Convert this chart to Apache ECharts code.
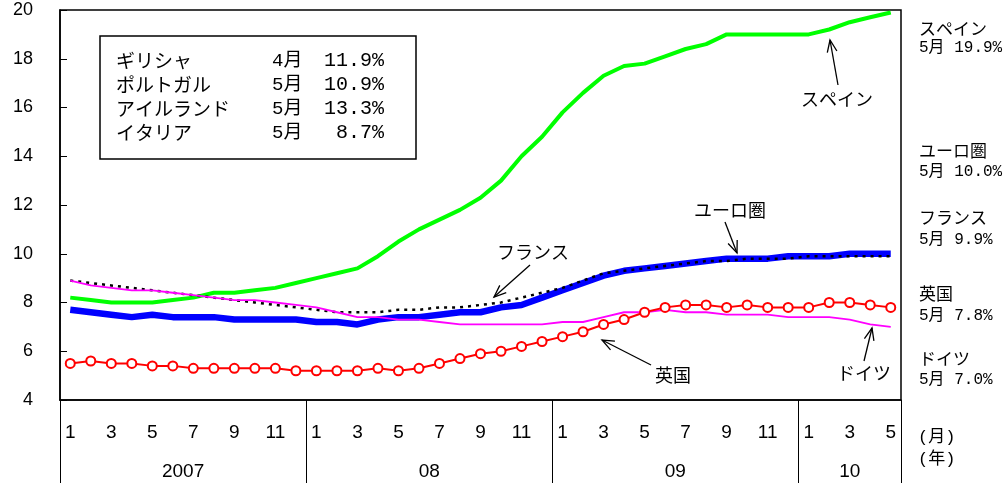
<!DOCTYPE html>
<html>
<head>
<meta charset="utf-8">
<script src="https://cdn.jsdelivr.net/npm/echarts@6/dist/echarts.min.js"></script>
<style>
  html, body { margin: 0; padding: 0; background: #fff; }
  #chart { width: 1007px; height: 483px; }
</style>
</head>
<body>
<div id="chart"></div>
<script>
// Monthly unemployment rates (%), Jan 2007 - May 2010
const months = [
  1,2,3,4,5,6,7,8,9,10,11,12,
  1,2,3,4,5,6,7,8,9,10,11,12,
  1,2,3,4,5,6,7,8,9,10,11,12,
  1,2,3,4,5
];
const years = ['2007', '08', '09', '10'];
const yearStarts = [0, 12, 24, 36, 41];

const spain = [
  8.2, 8.1, 8.0, 8.0, 8.0, 8.1, 8.2, 8.4, 8.4, 8.5, 8.6, 8.8,
  9.0, 9.2, 9.4, 9.9, 10.5, 11.0, 11.4, 11.8, 12.3, 13.0, 14.0, 14.8,
  15.8, 16.6, 17.3, 17.7, 17.8, 18.1, 18.4, 18.6, 19.0, 19.0, 19.0, 19.0,
  19.0, 19.2, 19.5, 19.7, 19.9
];
const euroArea = [
  7.7, 7.6, 7.5, 7.4, 7.5, 7.4, 7.4, 7.4, 7.3, 7.3, 7.3, 7.3,
  7.2, 7.2, 7.1, 7.3, 7.4, 7.4, 7.5, 7.6, 7.6, 7.8, 7.9, 8.2,
  8.5, 8.8, 9.1, 9.3, 9.4, 9.5, 9.6, 9.7, 9.8, 9.8, 9.8, 9.9,
  9.9, 9.9, 10.0, 10.0, 10.0
];
const france = [
  8.9, 8.8, 8.7, 8.6, 8.5, 8.4, 8.3, 8.2, 8.1, 8.0, 7.9, 7.8,
  7.7, 7.6, 7.6, 7.6, 7.7, 7.7, 7.8, 7.8, 7.9, 8.0, 8.2, 8.4,
  8.6, 8.9, 9.2, 9.3, 9.4, 9.5, 9.6, 9.7, 9.7, 9.8, 9.8, 9.8,
  9.9, 9.9, 9.9, 9.9, 9.9
];
const germany = [
  8.9, 8.7, 8.6, 8.5, 8.5, 8.4, 8.3, 8.2, 8.1, 8.1, 8.0, 7.9,
  7.8, 7.6, 7.4, 7.4, 7.3, 7.3, 7.2, 7.1, 7.1, 7.1, 7.1, 7.1,
  7.2, 7.2, 7.4, 7.6, 7.6, 7.7, 7.6, 7.6, 7.5, 7.5, 7.5, 7.4,
  7.4, 7.4, 7.3, 7.1, 7.0
];
const uk = [
  5.5, 5.6, 5.5, 5.5, 5.4, 5.4, 5.3, 5.3, 5.3, 5.3, 5.3, 5.2,
  5.2, 5.2, 5.2, 5.3, 5.2, 5.3, 5.5, 5.7, 5.9, 6.0, 6.2, 6.4,
  6.6, 6.8, 7.1, 7.3, 7.6, 7.8, 7.9, 7.9, 7.8, 7.9, 7.8, 7.8,
  7.8, 8.0, 8.0, 7.9, 7.8
];

// Latest readings for other member states (boxed note)
const noteNames = ['ギリシャ', 'ポルトガル', 'アイルランド', 'イタリア'];
const noteMonths = ['4月', '5月', '5月', '5月'];
const noteValues = [11.9, 10.9, 13.3, 8.7];

const JP = '"Noto Sans CJK JP", sans-serif';
const MONO = '"Liberation Mono", "Noto Sans CJK JP", monospace';
const LATIN = '"Liberation Sans", Arial, sans-serif';

const chart = echarts.init(document.getElementById('chart'), null, { renderer: 'canvas' });

function text(x, y, str, font, align) {
  return {
    type: 'text', x: x, y: y, z: 100,
    style: { text: str, font: font, fill: '#000', align: align || 'left', verticalAlign: 'middle' }
  };
}

function arrow(tail, tip) {
  const dx = tip[0] - tail[0], dy = tip[1] - tail[1];
  const len = Math.sqrt(dx * dx + dy * dy);
  const ux = dx / len, uy = dy / len;
  const arm = 13, a = 22 * Math.PI / 180;
  const c = Math.cos(a), s = Math.sin(a);
  const p1 = [tip[0] - arm * (ux * c - uy * s), tip[1] - arm * (uy * c + ux * s)];
  const p2 = [tip[0] - arm * (ux * c + uy * s), tip[1] - arm * (uy * c - ux * s)];
  const st = { stroke: '#000', lineWidth: 1.3, fill: null };
  return [
    { type: 'polyline', z: 100, shape: { points: [tail, tip] }, style: st },
    { type: 'polyline', z: 100, shape: { points: [p1, tip, p2] }, style: st }
  ];
}

const last = (arr) => arr[arr.length - 1];
const endNote = (arr) => '5月 ' + last(arr).toFixed(1) + '%';

const graphics = [];
// boxed note
graphics.push({
  type: 'rect', z: 90,
  shape: { x: 100, y: 36, width: 316, height: 123 },
  style: { fill: '#fff', stroke: '#000', lineWidth: 1.5 }
});
noteNames.forEach((n, i) => {
  const y = 61 + i * 24;
  graphics.push(text(116, y, n, '19px ' + JP));
  graphics.push(text(272, y, noteMonths[i], '19px ' + MONO));
  graphics.push(text(384, y, noteValues[i].toFixed(1) + '%', '20px ' + MONO, 'right'));
});

// right-hand end labels
const ends = [
  ['スペイン', spain, 29, 48],
  ['ユーロ圏', euroArea, 151, 172],
  ['フランス', france, 218, 240],
  ['英国', uk, 294, 316],
  ['ドイツ', germany, 359, 380]
];
ends.forEach(e => {
  graphics.push(text(919, e[2], e[0], '17px ' + JP));
  graphics.push(text(919, e[3], endNote(e[1]), '16px ' + MONO));
});
graphics.push(text(918, 437, '(月)', '17px ' + MONO));
graphics.push(text(918, 459, '(年)', '17px ' + MONO));

// in-plot callouts
graphics.push(text(837, 99, 'スペイン', '18px ' + JP, 'center'));
graphics.push(...arrow([838, 85], [830, 40]));
graphics.push(text(533, 252, 'フランス', '18px ' + JP, 'center'));
graphics.push(...arrow([530, 265], [494, 297]));
graphics.push(text(730, 210, 'ユーロ圏', '18px ' + JP, 'center'));
graphics.push(...arrow([725, 222], [737, 253]));
graphics.push(text(673, 375, '英国', '18px ' + JP, 'center'));
graphics.push(...arrow([651, 365], [602, 340]));
graphics.push(text(864, 373, 'ドイツ', '18px ' + JP, 'center'));
graphics.push(...arrow([864, 361], [872, 328]));

const option = {
  animation: false,
  backgroundColor: '#fff',
  grid: {
    left: 60, right: 106, top: 10, bottom: 83,
    show: true, borderColor: '#000', borderWidth: 1.5, backgroundColor: 'transparent'
  },
  xAxis: [
    {
      type: 'category',
      data: months,
      boundaryGap: true,
      position: 'bottom',
      axisLine: { show: true, lineStyle: { color: '#000', width: 1.5 } },
      axisTick: { show: false },
      axisLabel: {
        interval: (i) => i % 2 === 0,
        margin: 23,
        color: '#000',
        fontSize: 19,
        fontFamily: LATIN
      },
      splitLine: { show: false }
    },
    {
      type: 'value',
      min: 0, max: 41,
      position: 'bottom',
      offset: 0,
      axisLine: { show: false },
      axisTick: {
        show: true, inside: false, length: 83,
        customValues: yearStarts,
        lineStyle: { color: '#000', width: 1 }
      },
      axisLabel: {
        customValues: yearStarts.slice(0, -1).map((s, i) => (s + yearStarts[i + 1]) / 2),
        formatter: (v) => {
          const i = yearStarts.findIndex((s, k) => k < years.length && v > s && v < yearStarts[k + 1]);
          return i >= 0 ? years[i] : '';
        },
        margin: 62,
        color: '#000',
        fontSize: 19,
        fontFamily: LATIN
      },
      splitLine: { show: false }
    }
  ],
  yAxis: {
    type: 'value',
    min: 4, max: 20, interval: 2,
    axisLine: { show: true, lineStyle: { color: '#000', width: 1.5 } },
    axisTick: { show: true, inside: true, length: 7, lineStyle: { color: '#000' } },
    axisLabel: { margin: 27, color: '#000', fontSize: 18, fontFamily: LATIN },
    splitLine: { show: false }
  },
  series: [
    {
      name: 'スペイン', type: 'line', data: spain, symbol: 'none', z: 2,
      lineStyle: { color: '#00ff00', width: 4 }
    },
    {
      name: 'ユーロ圏', type: 'line', data: euroArea, symbol: 'none', z: 3,
      lineStyle: { color: '#0000ff', width: 6.5 }
    },
    {
      name: 'フランス', type: 'line', data: france, symbol: 'none', z: 4,
      lineStyle: { color: '#000', width: 2.5, type: [3, 5] }
    },
    {
      name: 'ドイツ', type: 'line', data: germany, symbol: 'none', z: 5,
      lineStyle: { color: '#ff00ff', width: 1.8 }
    },
    {
      name: '英国', type: 'line', data: uk, z: 6,
      symbol: 'circle', symbolSize: 9,
      itemStyle: { color: '#fff', borderColor: '#ff0000', borderWidth: 2 },
      lineStyle: { color: '#ff0000', width: 2 }
    }
  ],
  graphic: graphics
};

chart.setOption(option);
</script>
</body>
</html>
